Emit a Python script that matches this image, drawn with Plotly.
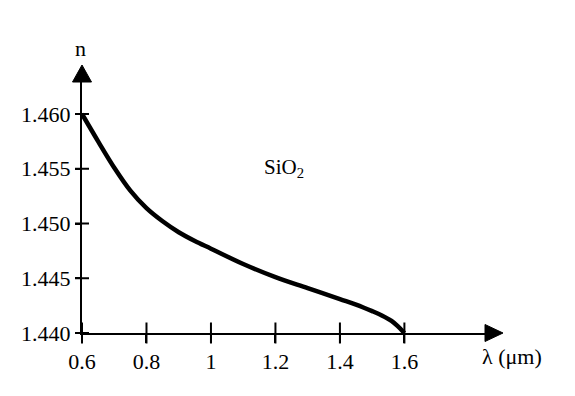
import plotly.graph_objects as go

# Data
wavelength_um = [0.60, 0.65, 0.70, 0.75, 0.80, 0.85, 0.90, 0.95, 1.00, 1.10,
                 1.20, 1.30, 1.40, 1.45, 1.50, 1.53, 1.56, 1.58, 1.60]
refractive_index = [1.4600, 1.4575, 1.4551, 1.4530, 1.4514, 1.4502, 1.4492, 1.4484, 1.4477, 1.4463,
                    1.4451, 1.4441, 1.4431, 1.4426, 1.4420, 1.4416, 1.4411, 1.4406, 1.4400]

x_ticks = [0.6, 0.8, 1.0, 1.2, 1.4, 1.6]
x_tick_labels = ["0.6", "0.8", "1", "1.2", "1.4", "1.6"]
y_ticks = [1.440, 1.445, 1.450, 1.455, 1.460]
y_tick_labels = ["1.440", "1.445", "1.450", "1.455", "1.460"]

FONT = "Liberation Serif"
OFF = 8  # page body margin
fig = go.Figure()

fig.add_trace(go.Scatter(x=wavelength_um, y=refractive_index, mode="lines",
                         line=dict(color="black", width=4.5, shape="spline", smoothing=1.0),
                         hoverinfo="skip"))
# crossing tick marks
fig.add_trace(go.Scatter(x=x_ticks, y=[y_ticks[0]] * len(x_ticks), mode="markers",
                         marker=dict(symbol="line-ns", size=15, line=dict(color="black", width=2)),
                         cliponaxis=False, hoverinfo="skip"))
fig.add_trace(go.Scatter(x=[x_ticks[0]] * len(y_ticks), y=y_ticks, mode="markers",
                         marker=dict(symbol="line-ew", size=10, line=dict(color="black", width=2)),
                         cliponaxis=False, hoverinfo="skip"))

W, H = 575 - OFF, 396 - OFF
L, T = 82 - OFF, 82 - OFF
R = W - (485 - OFF)
B = H - (333 - OFF)
pw, ph = W - L - R, H - T - B

def px_to_paper_x(p):
    return (p - OFF - L) / pw

def py_to_paper_y(p):
    return (H - B - (p - OFF)) / ph

# arrowheads
fig.add_shape(type="path", xref="paper", yref="paper",
              path=f"M {px_to_paper_x(485)},{py_to_paper_y(324.5)} L {px_to_paper_x(503)},{py_to_paper_y(333)} L {px_to_paper_x(485)},{py_to_paper_y(341.5)} Z",
              fillcolor="black", line=dict(color="black", width=1))
fig.add_shape(type="path", xref="paper", yref="paper",
              path=f"M {px_to_paper_x(72.5)},{py_to_paper_y(82)} L {px_to_paper_x(82)},{py_to_paper_y(65)} L {px_to_paper_x(91.5)},{py_to_paper_y(82)} Z",
              fillcolor="black", line=dict(color="black", width=1))

fig.add_annotation(x=px_to_paper_x(80), y=py_to_paper_y(49), xref="paper", yref="paper",
                   xanchor="center", yanchor="middle",
                   text="n", showarrow=False, font=dict(family=FONT, size=22, color="black"))
fig.add_annotation(x=px_to_paper_x(512), y=py_to_paper_y(356), xref="paper", yref="paper",
                   xanchor="center", yanchor="middle",
                   text="λ (μm)", showarrow=False, font=dict(family=FONT, size=22, color="black"))
fig.add_annotation(x=1.227, y=1.4551, xref="x", yref="y", text="SiO<sub>2</sub>",
                   xanchor="center", yanchor="middle",
                   showarrow=False, font=dict(family=FONT, size=21, color="black"))

fig.update_layout(
    width=W, height=H, margin=dict(l=L, r=R, t=T, b=B),
    paper_bgcolor="white", plot_bgcolor="white", showlegend=False,
    font=dict(family=FONT, size=22, color="black"),
    xaxis=dict(range=[0.6, 1.85], showgrid=False, zeroline=False, showline=True,
               linecolor="black", linewidth=2, tickvals=x_ticks, ticktext=x_tick_labels,
               ticks="outside", ticklen=8, tickwidth=2, tickcolor="black"),
    yaxis=dict(range=[1.440, 1.440 + ph / 10950.0], showgrid=False, zeroline=False, showline=True,
               linecolor="black", linewidth=2, tickvals=y_ticks, ticktext=y_tick_labels,
               ticks="outside", ticklen=5, tickwidth=2, tickcolor="black"),
)

fig.write_html("out.html")
